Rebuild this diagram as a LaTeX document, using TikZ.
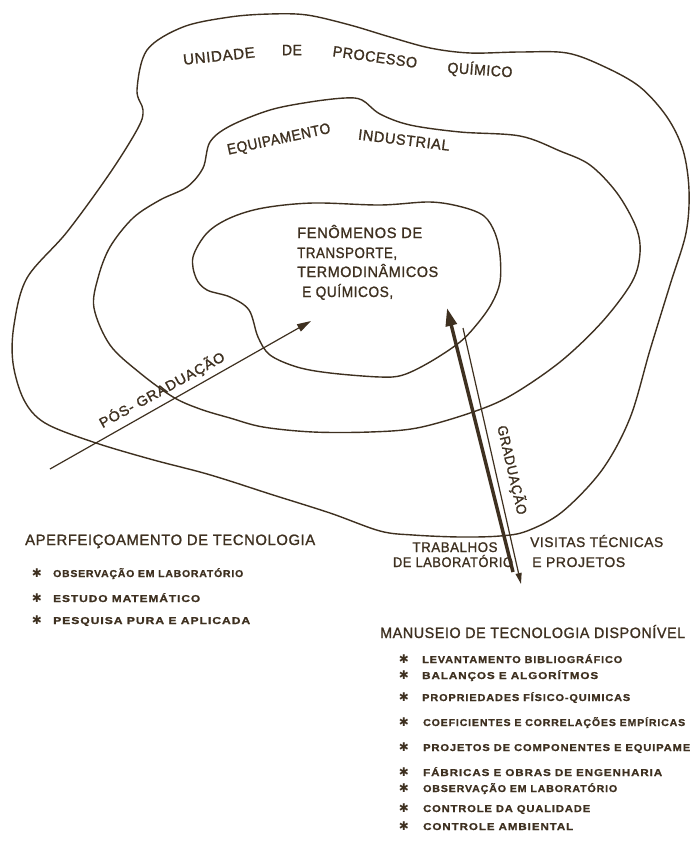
\documentclass[tikz,border=0pt]{standalone}
\usepackage{graphicx}
\usepackage{fontspec}
\setmainfont{Liberation Sans}
\newfontfamily\lblf{Liberation Sans}[FakeBold=1.2,LetterSpace=4]
\newfontfamily\lstf{Liberation Sans}[FakeBold=1,LetterSpace=8]
\newfontfamily\dingf{DejaVu Sans}
\usetikzlibrary{arrows.meta}
\definecolor{ink}{RGB}{62,48,32}
\newcommand{\fitw}[2]{\resizebox{#1pt}{\height}{#2}}
\begin{document}
\begin{tikzpicture}[x=1pt,y=-1pt,
  contour/.style={draw=ink,line width=1.4pt,line join=round},
  big/.style={font=\lblf\fontsize{15}{17}\selectfont,text=ink,inner sep=0pt},
  mid/.style={font=\lblf\fontsize{14}{16}\selectfont,text=ink,inner sep=0pt},
  sm/.style={font=\lstf\bfseries\fontsize{10}{12}\selectfont,text=ink,inner sep=0pt,anchor=base west},
  bul/.style={font=\dingf\bfseries\fontsize{12}{13}\selectfont,text=ink,inner sep=0pt},
  pen/.style={draw=ink,line width=1.2pt},
]
\useasboundingbox (0,0) rectangle (691,841);
\fill[white] (0,0) rectangle (691,841);

% outer contour
\draw[contour] plot[smooth cycle,tension=0.55] coordinates {
(137,90) (147,50) (183,27) (230,17) (270,14) (307,15) (350,25) (390,37) (430,48)
(470,53) (520,52) (567,53) (605,67) (640,87) (667,117) (683,150) (689,190) (686,233)
(670,285) (650,350) (630,418) (602,470) (562,512) (527,531) (500,536) (460,537)
(413,535) (380,531) (330,513) (270,494) (230,481) (200,472) (150,459) (93,442)
(45,423) (24,400) (13,363) (14,325) (27,278) (67,232) (110,173) (138,128) (143,110)};

% middle contour
\draw[contour] plot[smooth cycle,tension=0.55] coordinates {
(203,168) (210,142) (230,126) (270,110) (310,102) (345,98) (362,100) (380,114)
(410,125) (460,132) (520,136) (560,151) (590,165) (617,193) (636,227) (640,253)
(632,282) (602,322) (560,362) (510,396) (470,413) (417,428) (370,432) (313,432)
(263,427) (230,418) (200,409) (173,397) (140,373) (110,345) (94,308) (98,278)
(110,247) (133,218) (160,200) (187,187)};

% inner contour
\draw[contour] plot[smooth cycle,tension=0.55] coordinates {
(193,257) (207,233) (230,218) (263,208) (313,203) (380,205) (430,202) (462,207)
(484,216) (495,233) (500,255) (500,282) (492,303) (478,323) (460,342) (430,362)
(403,375) (380,377) (330,373) (297,367) (270,355) (258,337) (249,310) (230,297)
(207,290) (196,278)};

% region labels
\node[big,rotate=6] (u1) at (219,56) {\fitw{72}{UNIDADE}};
\node[big] (u2) at (292,50) {\fitw{20}{DE}};
\node[big,rotate=-8] (u3) at (375,57) {\fitw{85}{PROCESSO}};
\node[big,rotate=-4] (u4) at (480,70) {\fitw{65}{QUÍMICO}};
\node[big,rotate=12] (e1) at (279,140) {\fitw{105}{EQUIPAMENTO}};
\node[big,rotate=-7] (e2) at (404,140) {\fitw{92}{INDUSTRIAL}};
\node[big,anchor=base west] (f1) at (297,238) {\fitw{125}{FENÔMENOS DE}};
\node[big,anchor=base west] (f2) at (297,258) {\fitw{100}{TRANSPORTE,}};
\node[big,anchor=base west] (f3) at (297,277) {\fitw{141}{TERMODINÂMICOS}};
\node[big,anchor=base west] (f4) at (302,297) {\fitw{91}{E QUÍMICOS,}};

% arrows
\coordinate (pA) at (50,469);
\coordinate (pB) at (311,321);
\draw[pen,-{Triangle[length=14pt,width=8pt]}] (pA) -- (pB);
\node[mid,rotate=29] (pos) at (162,390) {\fitw{141}{PÓS- GRADUAÇÃO}};

\coordinate (gA) at (513,572);
\coordinate (gB) at (447,308);
\draw[draw=ink,line width=3.5pt,-{Triangle[length=18pt,width=11pt]}] (gA) -- (gB);
\coordinate (hA) at (463,328);
\coordinate (hB) at (521,584);
\draw[pen,-{Triangle[length=11pt,width=6pt]}] (hA) -- (hB);
\node[mid,rotate=-77] (grad) at (512,470) {\fitw{91}{GRADUAÇÃO}};

\node[mid,anchor=base] (t1) at (455,552) {\fitw{85}{TRABALHOS}};
\node[mid,anchor=base] (t2) at (453,567) {\fitw{120}{DE LABORATÓRIO}};
\node[mid,anchor=base west] (v1) at (530,547) {\fitw{133}{VISITAS TÉCNICAS}};
\node[mid,anchor=base west] (v2) at (532,567) {\fitw{93}{E PROJETOS}};

% left list
\node[big,anchor=base west] (ap) at (25,545) {\fitw{290}{APERFEIÇOAMENTO DE TECNOLOGIA}};
\node[bul] (lb1) at (37,573.5) {✱};
\node[sm] (l1) at (53,577) {\fitw{190}{OBSERVAÇÃO EM LABORATÓRIO}};
\node[bul] (lb2) at (37,598.5) {✱};
\node[sm] (l2) at (53,602) {\fitw{147}{ESTUDO MATEMÁTICO}};
\node[bul] (lb3) at (37,620.5) {✱};
\node[sm] (l3) at (53,624) {\fitw{197}{PESQUISA PURA E APLICADA}};

% right list
\node[big,anchor=base west] (ma) at (380,638) {\fitw{305}{MANUSEIO DE TECNOLOGIA DISPONÍVEL}};
\node[bul] (rb1) at (404,659.5) {✱};
\node[sm] (r1) at (422,663) {\fitw{200}{LEVANTAMENTO BIBLIOGRÁFICO}};
\node[bul] (rb2) at (404,675.5) {✱};
\node[sm] (r2) at (422,679) {\fitw{176}{BALANÇOS E ALGORÍTMOS}};
\node[bul] (rb3) at (404,697.5) {✱};
\node[sm] (r3) at (422,701) {\fitw{208}{PROPRIEDADES FÍSICO-QUIMICAS}};
\node[bul] (rb4) at (404,722.5) {✱};
\node[sm] (r4) at (423,726) {\fitw{262}{COEFICIENTES E CORRELAÇÕES EMPÍRICAS}};
\node[bul] (rb5) at (404,747.5) {✱};
\node[sm] (r5) at (423,751) {\fitw{267}{PROJETOS DE COMPONENTES E EQUIPAME}};
\node[bul] (rb6) at (404,772.5) {✱};
\node[sm] (r6) at (423,776) {\fitw{239}{FÁBRICAS E OBRAS DE ENGENHARIA}};
\node[bul] (rb7) at (404,788.5) {✱};
\node[sm] (r7) at (423,792) {\fitw{194}{OBSERVAÇÃO EM LABORATÓRIO}};
\node[bul] (rb8) at (404,808.5) {✱};
\node[sm] (r8) at (423,812) {\fitw{167}{CONTROLE DA QUALIDADE}};
\node[bul] (rb9) at (404,826.5) {✱};
\node[sm] (r9) at (423,830) {\fitw{150}{CONTROLE AMBIENTAL}};
\end{tikzpicture}
\end{document}
